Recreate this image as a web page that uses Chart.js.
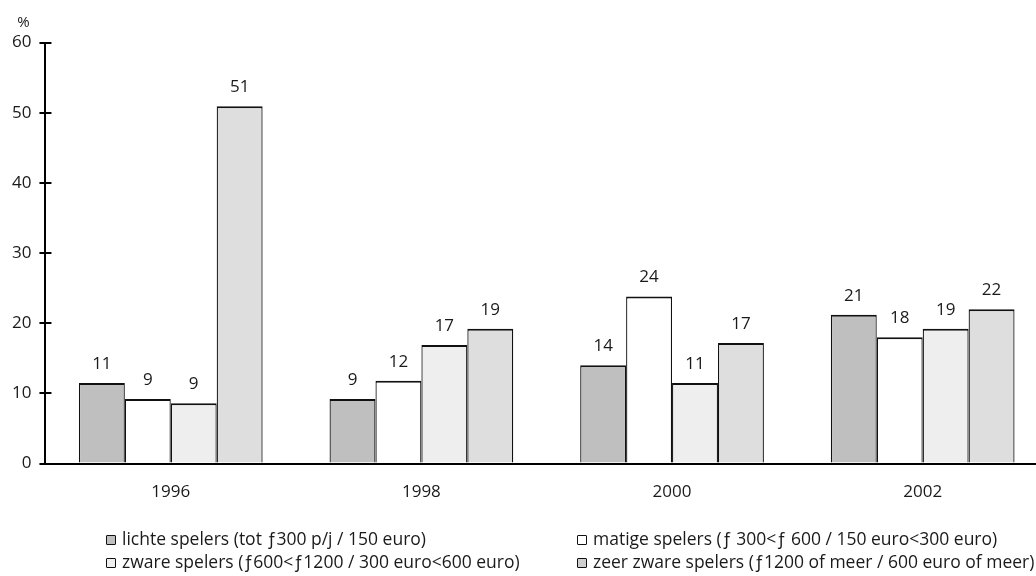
<!DOCTYPE html>
<html>
<head>
<meta charset="utf-8">
<script src="https://cdn.jsdelivr.net/npm/chart.js@4/dist/chart.umd.min.js"></script>
<style>
    html, body { margin: 0; padding: 0; background: #fff; overflow: hidden; }
    #wrap { position: absolute; left: 0; top: 0; width: 1054px; height: 576px; }
    .item {
        position: absolute;
        font-family: 'Open Sans', sans-serif;
        font-size: 17.5px;
        color: #1a1a1a;
        white-space: nowrap;
        line-height: 20px;
    }
    .sw {
        display: inline-block;
        width: 8px;
        height: 8px;
        border: 1.5px solid #111;
        border-radius: 1px;
        margin-right: 6px;
        vertical-align: 0px;
    }
</style>
</head>
<body>
<div id="wrap">
    <canvas id="chart" width="1054" height="576"></canvas>
</div>
<script>
// jaren
const years = ['1996', '1998', '2000', '2002'];

const lichte = [11.5, 9.2, 14.0, 21.2];
const matige = [9.2, 11.8, 23.8, 18.0];
const zware = [8.6, 16.9, 11.5, 19.2];
const zeerZware = [50.9, 19.2, 17.2, 22.0];

const lichteLbl = [11, 9, 14, 21];
const matigeLbl = [9, 12, 24, 18];
const zwareLbl = [9, 17, 11, 19];
const zeerZwareLbl = [51, 19, 17, 22];

const yTicks = [0, 10, 20, 30, 40, 50, 60];

const seriesNames = [
    'lichte spelers (tot \u0192300 p/j / 150 euro)',
    'matige spelers (\u0192 300<\u0192 600 / 150 euro<300 euro)',
    'zware spelers (\u0192600<\u01921200 / 300 euro<600 euro)',
    'zeer zware spelers (\u01921200 of meer / 600 euro of meer)'
];
const fills = ['#bfbfbf', '#ffffff', '#eeeeee', '#dedede'];

const values = [lichte, matige, zware, zeerZware];
const labels = [lichteLbl, matigeLbl, zwareLbl, zeerZwareLbl];

const FONT = "'Open Sans', sans-serif";
const TXT = '#1a1a1a';

// waarden boven de staven
const valueLabels = {
    id: 'valueLabels',
    afterDatasetsDraw(chart) {
        const ctx = chart.ctx;
        ctx.save();
        ctx.font = '17px ' + FONT;
        ctx.fillStyle = TXT;
        ctx.textAlign = 'center';
        ctx.textBaseline = 'middle';
        chart.data.datasets.forEach((ds, i) => {
            chart.getDatasetMeta(i).data.forEach((bar, j) => {
                ctx.fillText(String(labels[i][j]), bar.x, bar.y - 19);
            });
        });
        ctx.restore();
    }
};

// binnenste deel van de y-streepjes en het %-teken
const axisExtras = {
    id: 'axisExtras',
    afterDraw(chart) {
        const ctx = chart.ctx;
        const y = chart.scales.y;
        const left = chart.chartArea.left;
        ctx.save();
        ctx.strokeStyle = '#000';
        ctx.lineWidth = 2;
        yTicks.forEach(t => {
            const py = Math.round(y.getPixelForValue(t));
            ctx.beginPath();
            ctx.moveTo(left, py);
            ctx.lineTo(left + 6, py);
            ctx.stroke();
        });
        ctx.font = '15px ' + FONT;
        ctx.fillStyle = TXT;
        ctx.textAlign = 'center';
        ctx.textBaseline = 'middle';
        ctx.fillText('%', left - 22, y.getPixelForValue(60) - 20);
        ctx.restore();
    }
};

new Chart(document.getElementById('chart').getContext('2d'), {
    type: 'bar',
    data: {
        labels: years,
        datasets: values.map((v, i) => ({
            label: seriesNames[i],
            data: v,
            backgroundColor: fills[i],
            borderColor: '#111',
            borderWidth: { top: 2, left: 1.25, right: 1.25, bottom: 0 },
            borderSkipped: 'start',
            categoryPercentage: 0.733,
            barPercentage: 1
        }))
    },
    options: {
        responsive: false,
        animation: false,
        devicePixelRatio: 1,
        layout: { padding: { left: 4, top: 42.5, right: 6, bottom: 56 } },
        plugins: {
            legend: { display: false },
            tooltip: { enabled: false }
        },
        scales: {
            x: {
                z: 1,
                grid: { display: true, drawOnChartArea: false, drawTicks: false },
                border: { display: true, color: '#000', width: 2 },
                ticks: {
                    color: TXT,
                    font: { family: FONT, size: 17 },
                    padding: 18
                }
            },
            y: {
                min: 0,
                max: 60,
                afterBuildTicks: axis => { axis.ticks = yTicks.map(v => ({ value: v })); },
                grid: {
                    drawOnChartArea: false,
                    drawTicks: true,
                    tickLength: 6,
                    color: '#000',
                    lineWidth: 2
                },
                border: { display: true, color: '#000', width: 2 },
                ticks: {
                    color: TXT,
                    font: { family: FONT, size: 17 },
                    padding: 8
                }
            }
        }
    },
    plugins: [valueLabels, axisExtras]
});
</script>
<div class="item" style="left:106px; top:528px;"><span class="sw" style="background:#bfbfbf"></span>lichte spelers (tot &#402;300 p/j / 150 euro)</div>
<div class="item" style="left:577px; top:528px;"><span class="sw" style="background:#ffffff"></span>matige spelers (&#402; 300&lt;&#402; 600 / 150 euro&lt;300 euro)</div>
<div class="item" style="left:106px; top:551px;"><span class="sw" style="background:#eeeeee"></span>zware spelers (&#402;600&lt;&#402;1200 / 300 euro&lt;600 euro)</div>
<div class="item" style="left:577px; top:551px;"><span class="sw" style="background:#cfcfcf"></span>zeer zware spelers (&#402;1200 of meer / 600 euro of meer)</div>
</body>
</html>
